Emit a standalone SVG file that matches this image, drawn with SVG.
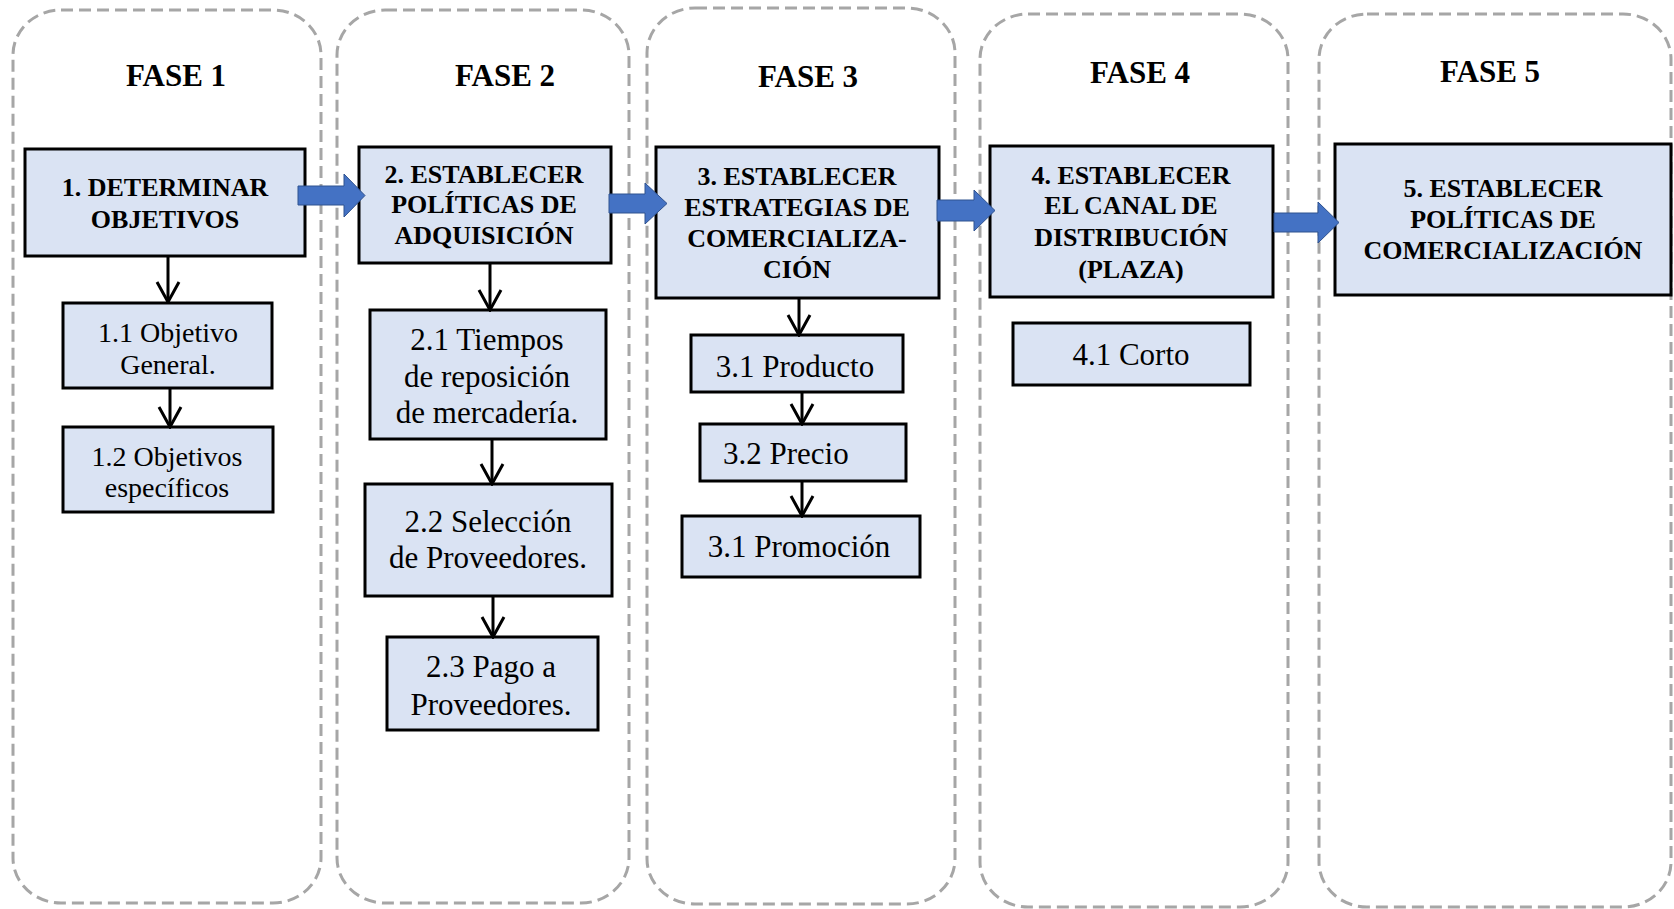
<svg xmlns="http://www.w3.org/2000/svg" width="1674" height="909" viewBox="0 0 1674 909">
<style>
.phase{fill:#fff;stroke:#A6A6A6;stroke-width:3;stroke-dasharray:12 6}
.box{fill:#DAE3F3;stroke:#000;stroke-width:3}
.blk{fill:#4472C4;stroke:#2F528F;stroke-width:1}
.con{stroke:#000;stroke-width:3;fill:none}
text{font-family:"Liberation Serif","Times New Roman",serif;fill:#000}
.ph{font-size:31px;font-weight:bold;text-anchor:middle}
.mt{font-size:26px;font-weight:bold;text-anchor:middle}
.st{font-size:31px;text-anchor:middle}
.s1{font-size:28px;text-anchor:middle}
</style>
<defs>
<marker id="ah" viewBox="-23 -13 25 26" refX="0" refY="0" markerWidth="25" markerHeight="26" markerUnits="userSpaceOnUse" orient="auto">
<path d="M-20,-11 L0,0 L-20,11" fill="none" stroke="#000" stroke-width="3"/>
</marker>
</defs>
<g id="phases">
<rect id="fase1" class="phase" x="13" y="10" width="308" height="893" rx="48" ry="45"/>
<rect id="fase2" class="phase" x="337" y="10" width="292" height="893" rx="48" ry="45"/>
<rect id="fase3" class="phase" x="647" y="8" width="308" height="896" rx="48" ry="45"/>
<rect id="fase4" class="phase" x="980" y="14" width="308" height="893" rx="48" ry="45"/>
<rect id="fase5" class="phase" x="1319" y="14" width="352" height="893" rx="48" ry="45"/>
<text class="ph" x="176" y="86">FASE 1</text>
<text class="ph" x="505" y="86">FASE 2</text>
<text class="ph" x="808" y="87">FASE 3</text>
<text class="ph" x="1140" y="83">FASE 4</text>
<text class="ph" x="1490" y="82">FASE 5</text>
</g>
<g id="n1">
<rect class="box" x="25" y="149" width="280" height="107"/>
<text class="mt" x="165" y="196">1. DETERMINAR</text>
<text class="mt" x="165" y="228">OBJETIVOS</text>
</g>
<g id="n2">
<rect class="box" x="359" y="147" width="252" height="116"/>
<text class="mt" x="484" y="183">2. ESTABLECER</text>
<text class="mt" x="484" y="213">POLÍTICAS DE</text>
<text class="mt" x="484" y="244">ADQUISICIÓN</text>
</g>
<g id="n3">
<rect class="box" x="656" y="147" width="283" height="151"/>
<text class="mt" x="797" y="185">3. ESTABLECER</text>
<text class="mt" x="797" y="216">ESTRATEGIAS DE</text>
<text class="mt" x="797" y="247">COMERCIALIZA-</text>
<text class="mt" x="797" y="278">CIÓN</text>
</g>
<g id="n4">
<rect class="box" x="990" y="146" width="283" height="151"/>
<text class="mt" x="1131" y="184">4. ESTABLECER</text>
<text class="mt" x="1131" y="214">EL CANAL DE</text>
<text class="mt" x="1131" y="246">DISTRIBUCIÓN</text>
<text class="mt" x="1131" y="278">(PLAZA)</text>
</g>
<g id="n5">
<rect class="box" x="1335" y="144" width="336" height="151"/>
<text class="mt" x="1503" y="197">5. ESTABLECER</text>
<text class="mt" x="1503" y="228">POLÍTICAS DE</text>
<text class="mt" x="1503" y="259">COMERCIALIZACIÓN</text>
</g>
<g id="n1_1">
<rect class="box" x="63" y="303" width="209" height="85"/>
<text class="s1" x="168" y="342">1.1 Objetivo</text>
<text class="s1" x="168" y="374">General.</text>
</g>
<g id="n1_2">
<rect class="box" x="63" y="427" width="210" height="85"/>
<text class="s1" x="167" y="466">1.2 Objetivos</text>
<text class="s1" x="167" y="497">específicos</text>
</g>
<g id="n2_1">
<rect class="box" x="370" y="310" width="236" height="129"/>
<text class="st" x="487" y="350">2.1 Tiempos</text>
<text class="st" x="487" y="387">de reposición</text>
<text class="st" x="487" y="423">de mercadería.</text>
</g>
<g id="n2_2">
<rect class="box" x="365" y="484" width="247" height="112"/>
<text class="st" x="488" y="532">2.2 Selección</text>
<text class="st" x="488" y="568">de Proveedores.</text>
</g>
<g id="n2_3">
<rect class="box" x="387" y="637" width="211" height="93"/>
<text class="st" x="491" y="677">2.3 Pago a</text>
<text class="st" x="491" y="715">Proveedores.</text>
</g>
<g id="n3_1">
<rect class="box" x="691" y="335" width="212" height="57"/>
<text class="st" x="795" y="377">3.1 Producto</text>
</g>
<g id="n3_2">
<rect class="box" x="700" y="424" width="206" height="57"/>
<text class="st" x="723" y="464" style="text-anchor:start">3.2 Precio</text>
</g>
<g id="n3_3">
<rect class="box" x="682" y="516" width="238" height="61"/>
<text class="st" x="799" y="557">3.1 Promoción</text>
</g>
<g id="n4_1">
<rect class="box" x="1013" y="323" width="237" height="62"/>
<text class="st" x="1131" y="365">4.1 Corto</text>
</g>
<g id="connectors">
<path class="blk" d="M298,186 L344,186 L344,174 L365,195.5 L344,217 L344,205 L298,205 Z"/>
<path class="blk" d="M609,194 L645,194 L645,183 L667,203.5 L645,224 L645,213 L609,213 Z"/>
<path class="blk" d="M937,200 L974,200 L974,190 L995,210.5 L974,231 L974,221 L937,221 Z"/>
<path class="blk" d="M1274,213 L1318,213 L1318,202 L1339,222.5 L1318,243 L1318,232 L1274,232 Z"/>
<line class="con" x1="168" y1="256" x2="168" y2="302" marker-end="url(#ah)"/>
<line class="con" x1="170" y1="388" x2="170" y2="427" marker-end="url(#ah)"/>
<line class="con" x1="490" y1="263" x2="490" y2="310" marker-end="url(#ah)"/>
<line class="con" x1="492" y1="439" x2="492" y2="484" marker-end="url(#ah)"/>
<line class="con" x1="493" y1="596" x2="493" y2="637" marker-end="url(#ah)"/>
<line class="con" x1="799" y1="298" x2="799" y2="335" marker-end="url(#ah)"/>
<line class="con" x1="802" y1="392" x2="802" y2="424" marker-end="url(#ah)"/>
<line class="con" x1="802" y1="481" x2="802" y2="516" marker-end="url(#ah)"/>
</g>
</svg>
